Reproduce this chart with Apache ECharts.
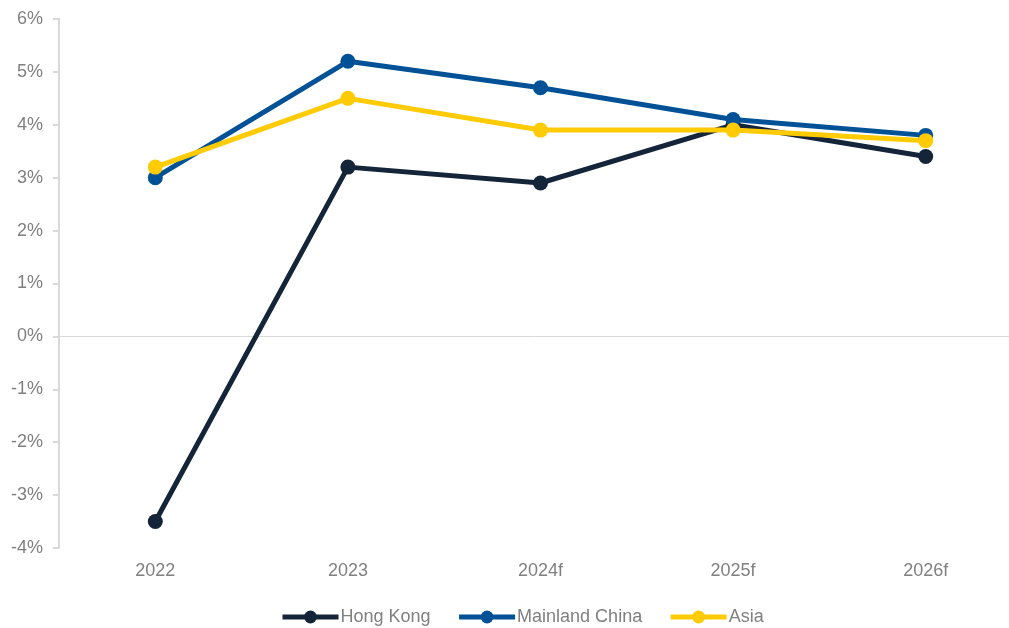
<!DOCTYPE html>
<html>
<head>
<meta charset="utf-8">
<script src="https://cdn.jsdelivr.net/npm/echarts@6/dist/echarts.min.js"></script>
<style>
html,body{margin:0;padding:0;background:#fff;}
#chart{width:1009px;height:628px;}
</style>
</head>
<body>
<div id="chart"></div>
<script>
const categories = ['2022', '2023', '2024f', '2025f', '2026f'];
const hongKong = [-3.5, 3.2, 2.9, 4.0, 3.4];
const mainlandChina = [3.0, 5.2, 4.7, 4.1, 3.8];
const asia = [3.2, 4.5, 3.9, 3.9, 3.7];
const seriesNames = ['Hong Kong', 'Mainland China', 'Asia'];
const seriesColors = ['#14253a', '#005196', '#ffcb05'];

const chart = echarts.init(document.getElementById('chart'));
const font = 'Liberation Sans, Arial, sans-serif';
function mk(name, data, color, extra) {
  return Object.assign({
    name: name, type: 'line', data: data,
    symbol: 'circle', symbolSize: 15,
    lineStyle: { width: 5, color: color },
    itemStyle: { color: color },
    emphasis: { disabled: true },
    animation: false, z: 3
  }, extra || {});
}
chart.setOption({
  animation: false,
  grid: { left: 59, top: 19, right: -13, bottom: 80, containLabel: false, outerBoundsMode: 'none' },
  legend: {
    top: 608, left: 280, padding: 0,
    data: seriesNames,
    itemWidth: 56, itemHeight: 16, itemGap: 26,
    lineStyle: { width: 5 },
    textStyle: { color: '#808080', fontSize: 18, fontFamily: font, padding: [0, 0, 0, -3] }
  },
  xAxis: {
    type: 'category', data: categories, boundaryGap: true,
    axisLine: { show: false }, axisTick: { show: false },
    axisLabel: { color: '#808080', fontSize: 18, fontFamily: font, margin: 14 }
  },
  yAxis: {
    type: 'value', min: -4, max: 6, interval: 1,
    axisLine: { show: true, lineStyle: { color: '#d9d9d9', width: 2 } },
    axisTick: { show: true, length: 6, lineStyle: { color: '#d9d9d9', width: 2 } },
    splitLine: { show: false },
    axisLabel: { color: '#808080', fontSize: 18, fontFamily: font, margin: 16, formatter: v => v + '%' }
  },
  series: [
    mk(seriesNames[0], hongKong, seriesColors[0], {
      markLine: {
        silent: true, symbol: 'none', label: { show: false },
        lineStyle: { color: '#d9d9d9', width: 1, type: 'solid' },
        data: [{ yAxis: 0 }], z: 1
      }
    }),
    mk(seriesNames[1], mainlandChina, seriesColors[1]),
    mk(seriesNames[2], asia, seriesColors[2])
  ]
});
</script>
</body>
</html>
